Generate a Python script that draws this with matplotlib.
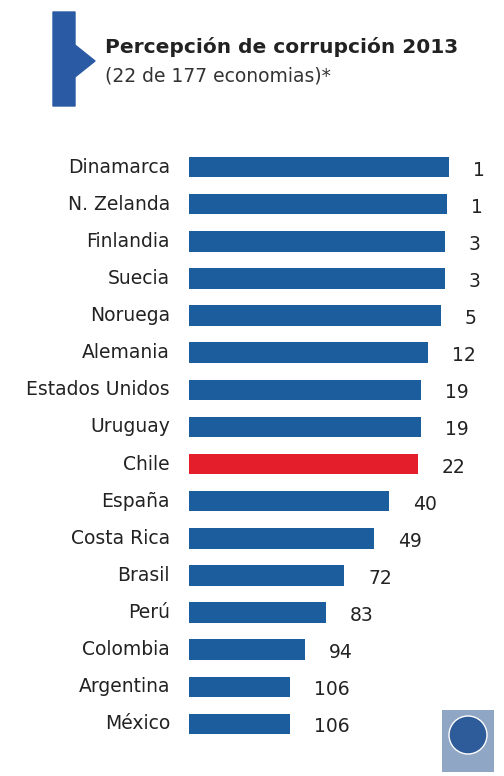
import matplotlib.pyplot as plt
import matplotlib.patches as patches
from matplotlib import font_manager

# Data (bar lengths in arbitrary units, ranks as labels)
countries = ["Dinamarca", "N. Zelanda", "Finlandia", "Suecia", "Noruega", "Alemania",
             "Estados Unidos", "Uruguay", "Chile", "España", "Costa Rica", "Brasil",
             "Perú", "Colombia", "Argentina", "México"]
bar_length = [260, 258, 256, 256, 252, 239, 232, 232, 229, 200, 185, 155, 137, 116, 101, 101]
ranks = [1, 1, 3, 3, 5, 12, 19, 19, 22, 40, 49, 72, 83, 94, 106, 106]
highlight = "Chile"

BLUE = "#1c5d9e"
RED = "#e41e2b"
TEXT = "#222222"

names = {f.name for f in font_manager.fontManager.ttflist}
narrow = "Liberation Sans Narrow" if "Liberation Sans Narrow" in names else "DejaVu Sans"
plt.rcParams['font.family'] = [narrow, 'DejaVu Sans']

W, H = 504, 776
fig = plt.figure(figsize=(W / 100, H / 100), dpi=100)
fig.patch.set_facecolor("white")

# axes in pixel units so bar lengths map 1:1
ax = fig.add_axes([189 / W, (H - 742.5) / H, 300 / W, 594 / H])
ax.set_xlim(0, 300)
ax.set_ylim(len(countries) - 0.5, -0.5)
ax.axis('off')

colors = [RED if c == highlight else BLUE for c in countries]
ax.barh(range(len(countries)), bar_length, height=0.55, color=colors, left=0)

for i, (name, val, rk) in enumerate(zip(countries, bar_length, ranks)):
    ax.text(-19, i, name, ha='right', va='center', fontsize=13.5, color=TEXT)
    ax.text(val + 24, i + 0.08, str(rk), ha='left', va='center', fontsize=13.5, color=TEXT)

# header bracket shape
pts = [(53, 12), (75, 12), (75, 45), (95, 61), (75, 77), (75, 106), (53, 106)]
poly = patches.Polygon([(x / W, 1 - y / H) for x, y in pts], closed=True,
                       transform=fig.transFigure, facecolor="#2b5aa5",
                       edgecolor="#2b5aa5", linewidth=1, joinstyle='round')
fig.patches.append(poly)

fig.text(105 / W, 1 - 47 / H, "Percepción de corrupción 2013", ha='left', va='center',
         fontsize=14.5, fontweight='bold', color=TEXT)
fig.text(105 / W, 1 - 76 / H, "(22 de 177 economias)*", ha='left', va='center',
         fontsize=13.5, color="#333333")

# small logo in the lower right corner
logo = patches.FancyBboxPatch((442 / W, 1 - 772 / H), 52 / W, 62 / H,
                              boxstyle="square,pad=0", transform=fig.transFigure,
                              facecolor="#8fa6c4", edgecolor="none")
fig.patches.append(logo)
circ = patches.Ellipse((468 / W, 1 - 735 / H), 38 / W, 38 / H, transform=fig.transFigure,
                       facecolor="#2e5b9a", edgecolor="white", linewidth=1)
fig.patches.append(circ)

fig.savefig("out.png", dpi=100)
